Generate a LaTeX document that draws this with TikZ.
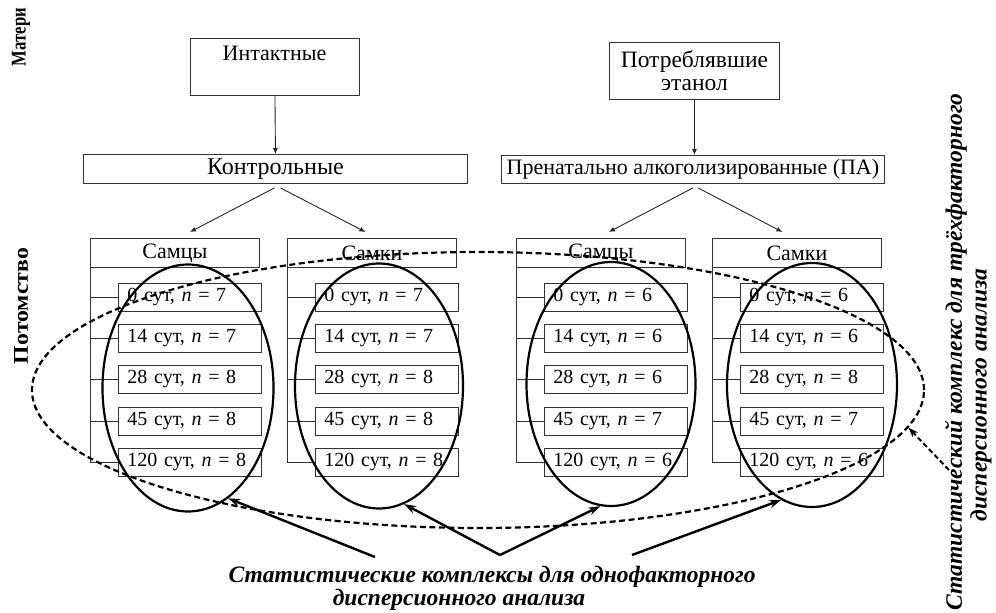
\documentclass[tikz,border=0pt]{standalone}
\usepackage{fontspec}
\usepackage{graphicx}
\setmainfont{Liberation Serif}
\usetikzlibrary{shapes.geometric,arrows.meta}
\begin{document}
\begin{tikzpicture}[x=1pt,y=-1pt,
  every node/.style={font=\fontsize{22}{24}\selectfont},
  box/.style={draw=black!80, line width=0.9pt, inner sep=0pt},
  hdr/.style={box, minimum width=169pt, minimum height=29pt, anchor=north west},
  item/.style={box, font=\fontsize{20}{22}\selectfont, minimum height=28pt, text width=125pt, inner xsep=9pt, align=left, anchor=west},
  conn/.style={draw=black!80, line width=0.9pt},
  thinarr/.style={draw=black!85, line width=0.9pt, -{Latex[length=6pt,width=5pt]}},
  oval/.style={draw, ellipse, line width=2.2pt, minimum width=170pt, minimum height=245pt, inner sep=0pt},
  bigarr/.style={line width=2.4pt, -{Stealth[length=12pt,width=8pt]}},
  lbl/.style={font=\fontsize{23.5}{26}\selectfont\bfseries\itshape},
  side/.style={font=\fontsize{21}{22}\selectfont\bfseries, rotate=90, inner sep=0pt}
]
\useasboundingbox (0,0) rectangle (996,613);

% side labels
\node[side] (mat) at (21,37) {\resizebox{58pt}{\height}{Матери}};
\node[side] (pot) at (21,306) {\resizebox{116pt}{\height}{Потомство}};

% mothers
\node[box, minimum width=169pt, minimum height=57pt, anchor=north west] (int) at (190,38) {};
\node (intT) at (274.5,53) {Интактные};
\node[box, font=\fontsize{23.5}{22.5}\selectfont, minimum width=170pt, minimum height=57pt, align=center, anchor=north west] (eth) at (609,42) {Потреблявшие\\этанол};

% groups
\node[box, font=\fontsize{24}{26}\selectfont, minimum width=384pt, minimum height=29pt, anchor=north west] (ctrl) at (83,154) {Контрольные};
\node[box, minimum width=383pt, minimum height=28pt, anchor=north west] (pa) at (501,155) {Пренатально алкоголизированные (ПА)};

\draw[thinarr] (int.south) -- (ctrl.north);
\draw[thinarr] (eth.south) -- (eth.south |- pa.north);

% headers
\node[hdr] (h1) at (90,238) {Самцы};
\node[hdr] (h2) at (287,238) {Самки};
\node[hdr] (h3) at (516,238) {Самцы};
\node[hdr] (h4) at (712,238) {Самки};

\draw[thinarr] ([xshift=-1pt,yshift=-4pt]ctrl.south) -- ([xshift=15pt,yshift=6pt]h1.north);
\draw[thinarr] ([xshift=5pt,yshift=-4pt]ctrl.south) -- ([xshift=-6.5pt,yshift=6pt]h2.north);
\draw[thinarr] ([xshift=0pt,yshift=-4pt]pa.south) -- ([xshift=8pt,yshift=6pt]h3.north);
\draw[thinarr] ([xshift=5pt,yshift=-4pt]pa.south) -- ([xshift=-14.5pt,yshift=6pt]h4.north);

% items
\foreach \c/\x/\a/\b/\cc/\d/\e in {1/90/7/7/8/8/8, 2/287/7/7/8/8/8, 3/516/6/6/6/7/6, 4/712/6/6/8/7/6}{
  \node[item] (i\c1) at (\x+28,297) {0 сут, \textit{n} = \a};
  \node[item] (i\c2) at (\x+28,338) {14 сут, \textit{n} = \b};
  \node[item] (i\c3) at (\x+28,379) {28 сут, \textit{n} = \cc};
  \node[item] (i\c4) at (\x+28,421) {45 сут, \textit{n} = \d};
  \node[item] (i\c5) at (\x+28,462) {120 сут, \textit{n} = \e};
  \draw[conn] (h\c.south west) -- (h\c.south west |- i\c5.west);
  \foreach \k in {1,...,5}{
    \draw[conn] (h\c.south west |- i\c\k.west) -- (i\c\k.west);
  }
}

% ellipses
\node[oval, minimum width=171pt, minimum height=247pt] (e1) at (188,388) {};
\node[oval, minimum width=168pt, minimum height=245pt] (e2) at (379,386) {};
\node[oval, minimum width=169pt, minimum height=244pt] (e3) at (611,384) {};
\node[oval, minimum width=170pt, minimum height=244pt] (e4) at (812,385) {};

\node[draw, ellipse, dash pattern=on 6pt off 3.5pt, line width=2.2pt, inner sep=0pt,
      minimum width=892pt, minimum height=276pt] (big) at (478,390) {};

% bottom label
\node[lbl] (t1) at (492,577) {Статистические комплексы для однофакторного};
\node[lbl] (t2) at (459,600) {дисперсионного анализа};
\coordinate (s1) at (375,557);
\coordinate (s2) at (500,555);
\coordinate (s3) at (632,555);
\draw[bigarr] (s1) -- (e1.-70);
\draw[bigarr] (s2) -- (e2.-78);
\draw[bigarr] (s2) -- (e3.-95);
\draw[bigarr] (s3) -- (e4.-105);

% right label
\node[lbl, rotate=90] (r1) at (956,352) {Статистический комплекс для трёхфакторного};
\node[lbl, rotate=90] (r2) at (981,395) {дисперсионного анализа};
\coordinate (d1) at (949,470);
\draw[line width=2pt, dash pattern=on 5pt off 3pt, -{Stealth[length=10pt,width=7pt]}] (d1) -- (big.-5);
\end{tikzpicture}
\end{document}
